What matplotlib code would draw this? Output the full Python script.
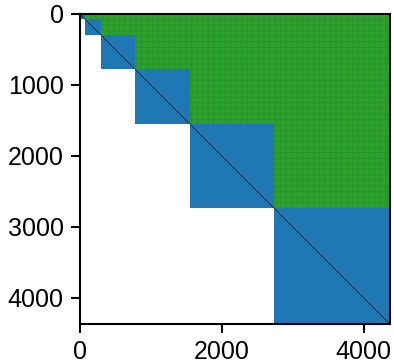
import matplotlib
matplotlib.use("Agg")
import matplotlib.pyplot as plt
from matplotlib.patches import Rectangle

# block partition of the matrix (row/col index boundaries)
n_total = 4368
bounds = [0, 73, 300, 776, 1552, 2735, 4368]
xticks = [0, 2000, 4000]
yticks = [0, 1000, 2000, 3000, 4000]

blue = "#1f77b4"
green = "#2ca02c"

plt.rcParams["font.family"] = ["Liberation Sans", "DejaVu Sans"]
plt.rcParams["font.size"] = 18
plt.rcParams["hatch.linewidth"] = 0.45

fig = plt.figure(figsize=(3.94, 3.64), dpi=100)
ax = fig.add_axes([0.2018, 0.110, 0.788, 0.852])

for i in range(len(bounds) - 1):
    lo, hi = bounds[i], bounds[i + 1]
    # dense diagonal block
    ax.add_patch(Rectangle((lo, lo), hi - lo, hi - lo, facecolor=blue,
                           edgecolor="none", linewidth=0))
    # off-diagonal block row to the right
    if hi < n_total:
        ax.add_patch(Rectangle((hi, lo), n_total - hi, hi - lo, facecolor=green,
                               edgecolor="#26902a", hatch="+++",
                               linewidth=0))

ax.plot([0, n_total], [0, n_total], color="#0d2236", linewidth=0.5)

ax.set_xlim(0, n_total)
ax.set_ylim(n_total, 0)
ax.set_aspect("equal")
ax.set_xticks(xticks)
ax.set_yticks(yticks)
for s in ax.spines.values():
    s.set_linewidth(1.5)
ax.tick_params(length=6.5, width=1.5, pad=5)

fig.savefig("out.png", dpi=100)
